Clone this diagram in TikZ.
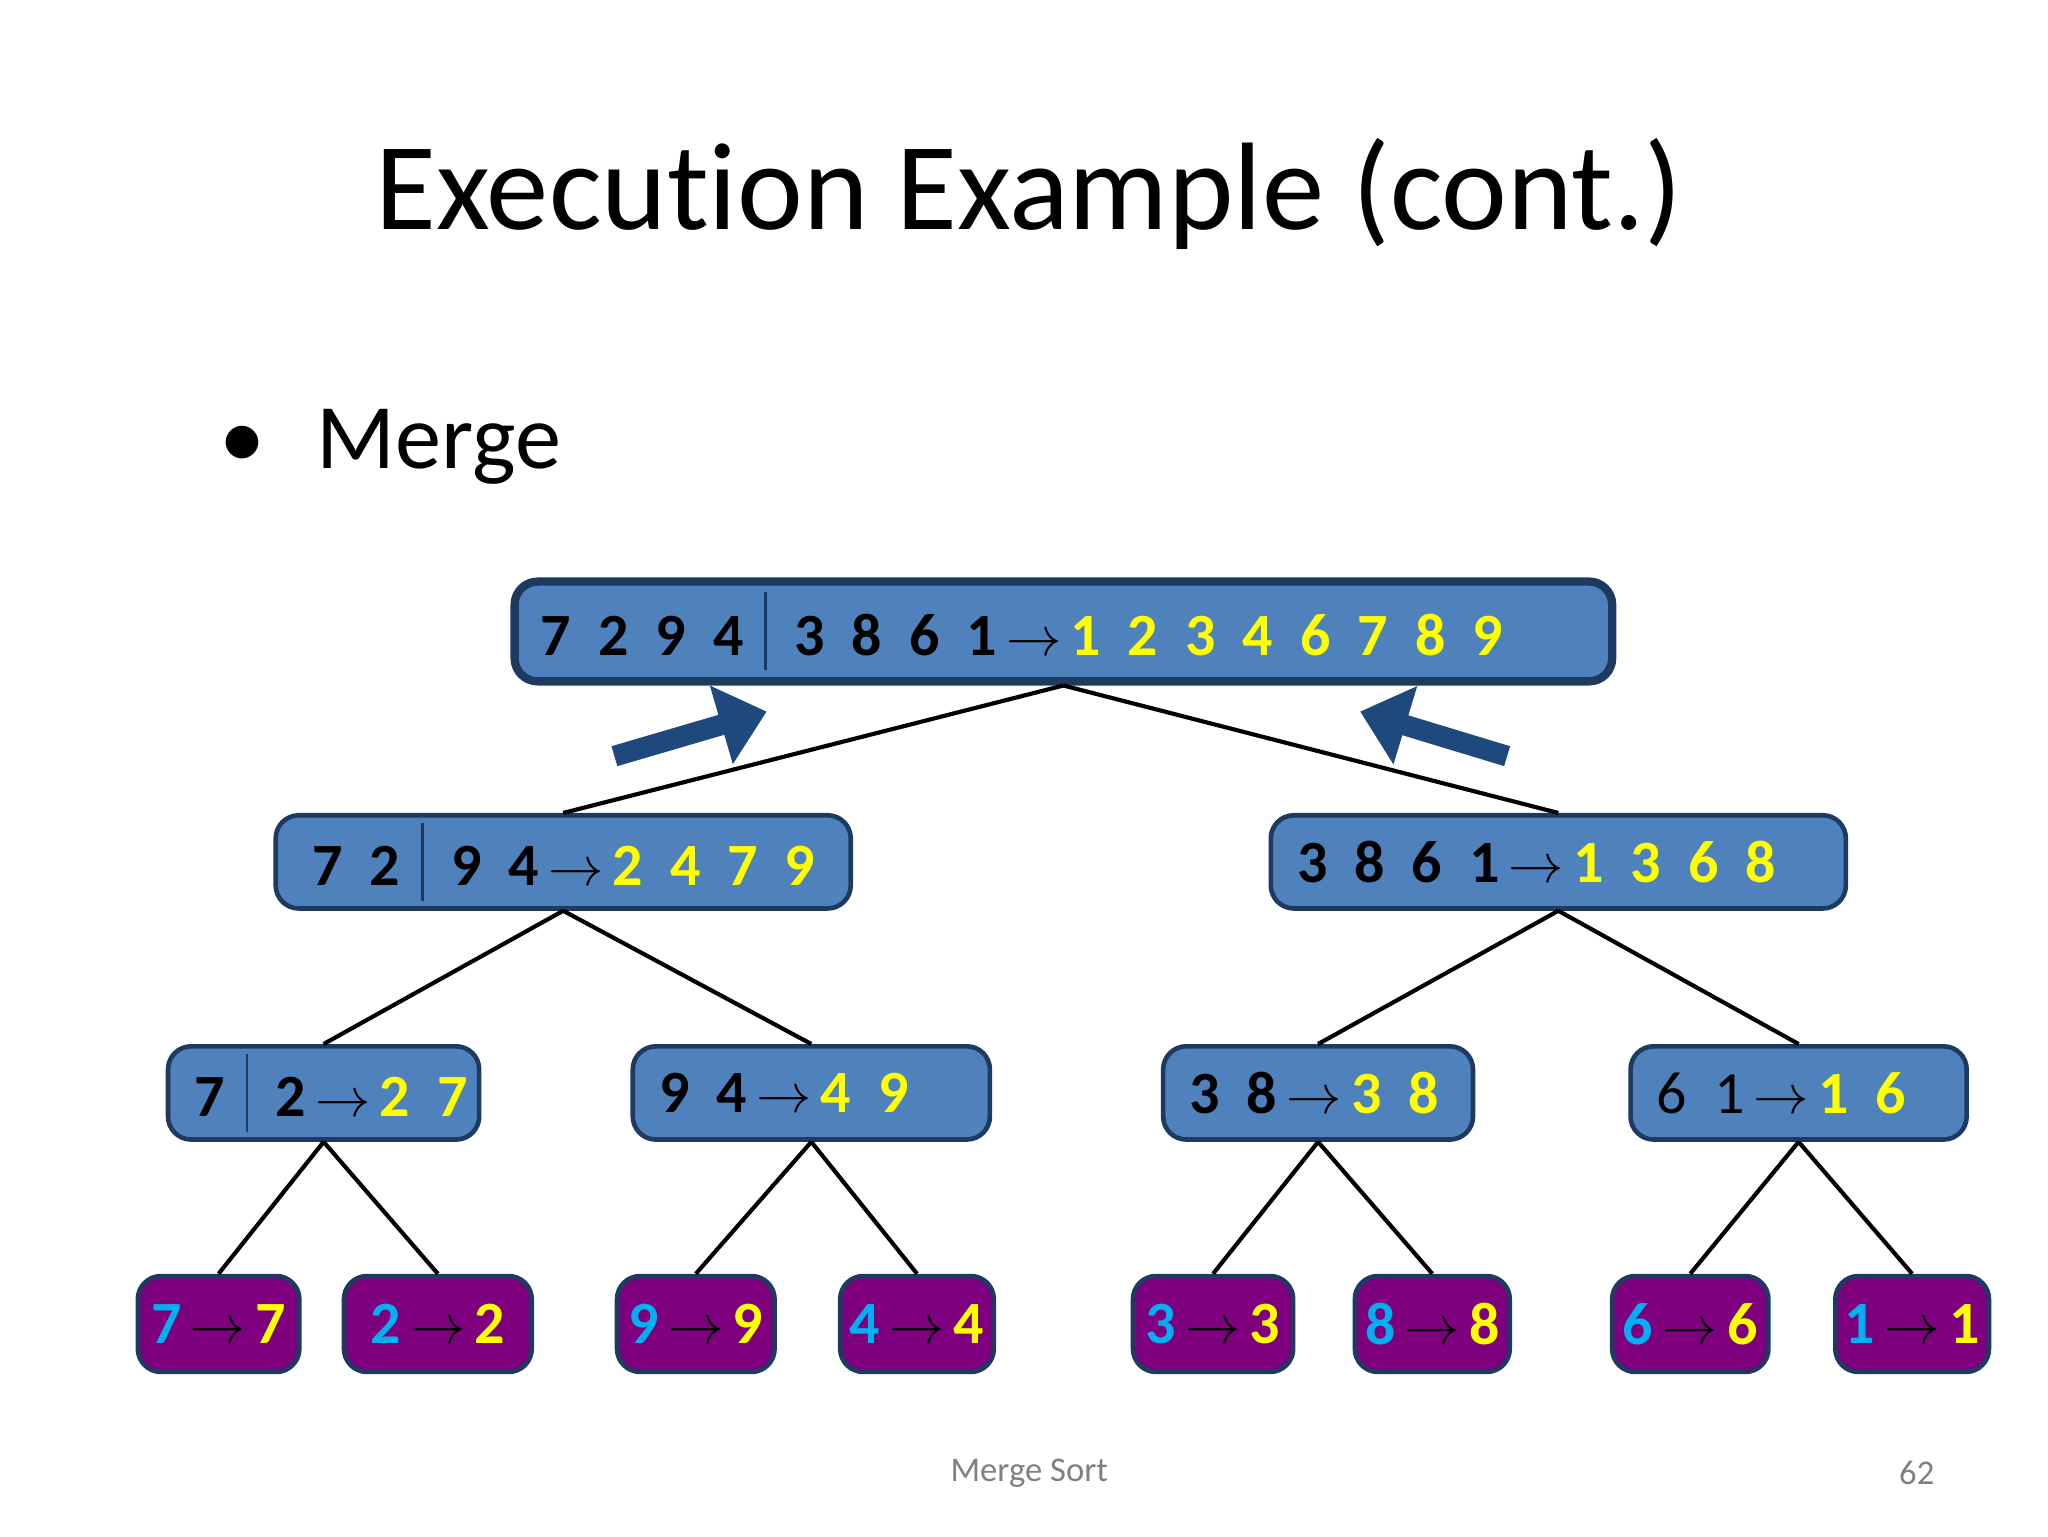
\documentclass[tikz,border=0pt]{standalone}
\usepackage{fontspec}
\setmainfont{Carlito}[Ligatures=NoCommon]
\usetikzlibrary{arrows.meta}
\definecolor{boxblue}{HTML}{4F81BD}
\definecolor{boxedge}{HTML}{1F3A60}
\definecolor{leafpurple}{HTML}{7F007F}
\definecolor{numyellow}{HTML}{FFFF00}
\definecolor{numcyan}{HTML}{00B0F0}
\definecolor{arrowblue}{HTML}{1F497D}
\newcommand{\Y}[1]{\textcolor{numyellow}{#1}}
\newcommand{\C}[1]{\textcolor{numcyan}{#1}}
\newcommand{\sep}{\hspace{0.45em}}
\newcommand{\vsep}{\hspace{0.35em}\textcolor{boxedge}{\vrule width 0.6pt height 1.05em depth 0.25em}\hspace{0.45em}}
\newcommand{\ra}{$\,\rightarrow\,$}
\begin{document}
\begin{tikzpicture}[
    x=1cm, y=1cm,
    box/.style={draw=boxedge, fill=boxblue, line width=1pt, rounded corners=5pt,
                inner xsep=0.2cm, inner ysep=0pt, align=left,
                font=\fontsize{13}{15}\selectfont\bfseries},
    leaf/.style={draw=boxedge, fill=leafpurple, line width=1pt, rounded corners=5pt,
                 inner sep=0pt, align=center,
                 minimum height=0.73cm, font=\fontsize{13}{15}\selectfont\bfseries},
    link/.style={line width=0.9pt},
    big/.style={line width=4.5pt, arrowblue, -{Triangle[length=0.36cm, width=0.6cm]}}
  ]
  \useasboundingbox (0,0) rectangle (15.6,-11.7);

  \node[font=\fontsize{27}{32}\selectfont] (title) at (7.84,-1.48) {Execution Example (cont.)};
  \node[font=\fontsize{20}{24}\selectfont, anchor=west] (bullet) at (1.55,-3.4) {\textbullet\hspace{0.55em}Merge};

  % level 0
  \node[box, line width=1.8pt, text width=7.96cm, minimum height=0.76cm] (r) at (8.10,-4.81)
    {7\sep 2\sep 9\sep 4\vsep 3\sep 8\sep 6\sep 1\ra\Y{1\sep 2\sep 3\sep 4\sep 6\sep 7\sep 8\sep 9}};

  % level 1
  \node[box, text width=3.98cm, minimum height=0.71cm] (a) at (4.29,-6.565)
    {\hspace{0.08cm}7\sep 2\vsep 9\sep 4\ra\Y{2\sep 4\sep 7\sep 9}};
  \node[box, text width=3.98cm, minimum height=0.71cm] (b) at (11.87,-6.565)
    {3\sep 8\sep 6\sep 1\ra\Y{1\sep 3\sep 6\sep 8}};

  % level 2
  \node[box, text width=1.97cm, minimum height=0.71cm] (aa) at (2.465,-8.325)
    {\mbox{7\vsep 2\ra\Y{2\sep 7}}};
  \node[box, text width=2.32cm, minimum height=0.71cm] (ab) at (6.18,-8.325)
    {9\sep 4\ra\Y{4\sep 9}};
  \node[box, text width=1.96cm, minimum height=0.71cm] (ba) at (10.04,-8.325)
    {3\sep 8\ra\Y{3\sep 8}};
  \node[box, text width=2.16cm, minimum height=0.71cm] (bb) at (13.70,-8.325)
    {\mdseries 6\sep 1\ra\bfseries\Y{1\sep 6}};

  % leaves
  \node[leaf, minimum width=1.23cm] (l1) at (1.665,-10.085) {\C{7}\ra\Y{7}};
  \node[leaf, minimum width=1.43cm] (l2) at (3.335,-10.085) {\C{2}\ra\Y{2}};
  \node[leaf, minimum width=1.20cm] (l3) at (5.30,-10.085) {\C{9}\ra\Y{9}};
  \node[leaf, minimum width=1.17cm] (l4) at (6.985,-10.085) {\C{4}\ra\Y{4}};
  \node[leaf, minimum width=1.22cm] (l5) at (9.24,-10.085) {\C{3}\ra\Y{3}};
  \node[leaf, minimum width=1.18cm] (l6) at (10.91,-10.085) {\C{8}\ra\Y{8}};
  \node[leaf, minimum width=1.19cm] (l7) at (12.875,-10.085) {\C{6}\ra\Y{6}};
  \node[leaf, minimum width=1.17cm] (l8) at (14.565,-10.085) {\C{1}\ra\Y{1}};

  % tree links
  \draw[link] (r.south) -- (a.north);
  \draw[link] (r.south) -- (b.north);
  \draw[link] (a.south) -- (aa.north);
  \draw[link] (a.south) -- (ab.north);
  \draw[link] (b.south) -- (ba.north);
  \draw[link] (b.south) -- (bb.north);
  \draw[link] (aa.south) -- (l1.north);
  \draw[link] (aa.south) -- (l2.north);
  \draw[link] (ab.south) -- (l3.north);
  \draw[link] (ab.south) -- (l4.north);
  \draw[link] (ba.south) -- (l5.north);
  \draw[link] (ba.south) -- (l6.north);
  \draw[link] (bb.south) -- (l7.north);
  \draw[link] (bb.south) -- (l8.north);

  % merge arrows
  \coordinate (p1) at (4.68,-5.76);
  \coordinate (q1) at (5.84,-5.42);
  \coordinate (p2) at (11.48,-5.76);
  \coordinate (q2) at (10.36,-5.42);
  \draw[big] (p1) -- (q1);
  \draw[big] (p2) -- (q2);

  % footer
  \node[font=\fontsize{7.5}{9}\selectfont, text=gray] (foot) at (7.84,-11.22) {Merge Sort};
  \node[font=\fontsize{7.5}{9}\selectfont, text=gray] (page) at (14.60,-11.22) {62};
\end{tikzpicture}
\end{document}
